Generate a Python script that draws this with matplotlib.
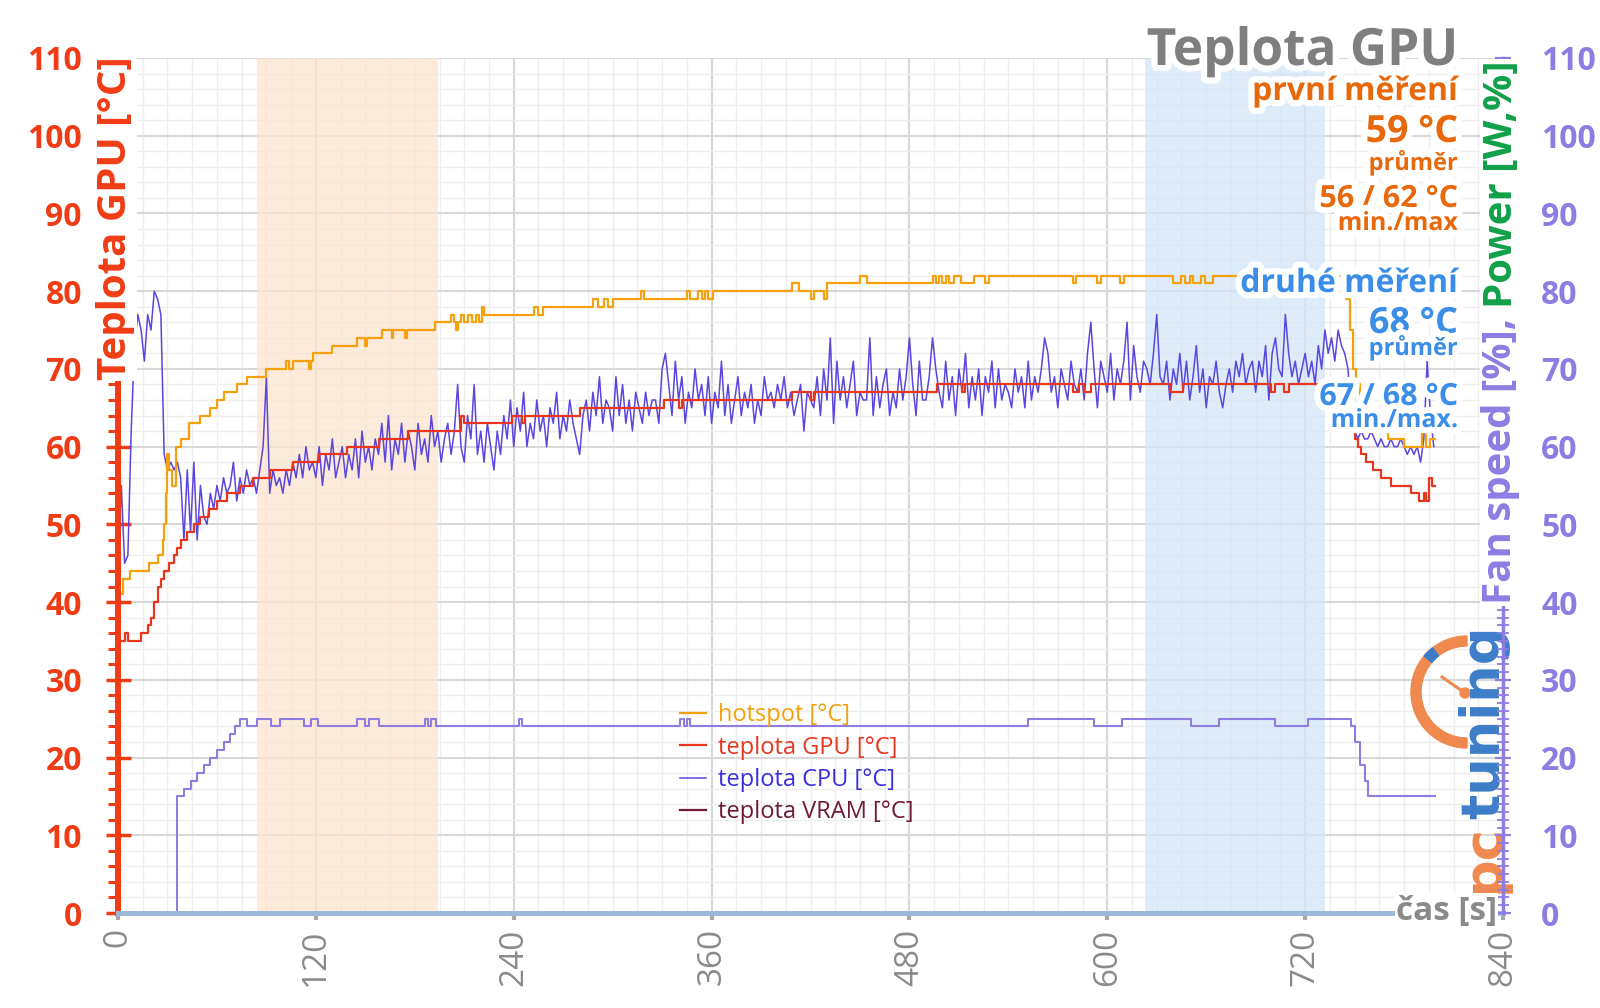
import numpy as np
import matplotlib.pyplot as plt
import matplotlib.patheffects as pe
from matplotlib.patches import Wedge, Circle
from matplotlib.lines import Line2D
from matplotlib.transforms import IdentityTransform

plt.rcParams['font.family'] = ['Open Sans', 'DejaVu Sans']

# teplota CPU, vzorek kazde 2 s
cpu_temp = [
    45, 55, 45, 46, 62, 73, 77, 75, 71, 77, 75, 80, 79, 77, 59, 57, 58, 57, 58, 56,
    48, 57, 49, 58, 48, 55, 51, 50, 54, 52, 55, 53, 56, 54, 55, 58, 53, 56, 54, 57,
    55, 56, 54, 57, 60, 69, 54, 57, 55, 56, 54, 57, 55, 58, 56, 59, 56, 60, 57, 58,
    56, 60, 55, 59, 57, 61, 56, 58, 60, 56, 59, 57, 61, 56, 62, 58, 60, 57, 61, 59,
    63, 58, 64, 57, 61, 59, 63, 58, 62, 60, 57, 63, 59, 61, 58, 64, 60, 62, 58, 61,
    63, 59, 62, 68, 60, 58, 64, 61, 68, 59, 62, 58, 63, 60, 57, 62, 59, 64, 61, 66,
    60, 65, 62, 67, 60, 63, 61, 66, 62, 64, 60, 65, 63, 67, 61, 64, 62, 66, 63, 61,
    59, 64, 66, 62, 67, 64, 69, 63, 66, 65, 62, 69, 64, 68, 63, 66, 62, 67, 65, 63,
    67, 64, 66, 66, 63, 70, 72, 68, 64, 71, 66, 69, 63, 67, 65, 70, 66, 68, 64, 69,
    63, 67, 65, 71, 64, 68, 63, 66, 69, 64, 67, 65, 68, 63, 66, 64, 69, 66, 67, 65,
    68, 66, 69, 65, 67, 64, 66, 68, 62, 67, 66, 65, 69, 64, 70, 66, 74, 63, 71, 66,
    69, 65, 68, 71, 64, 67, 66, 66, 74, 64, 69, 65, 68, 70, 64, 67, 65, 70, 66, 69,
    74, 68, 64, 71, 66, 66, 69, 74, 70, 67, 65, 71, 66, 69, 64, 70, 67, 72, 65, 69,
    66, 70, 64, 69, 67, 71, 65, 70, 66, 68, 67, 65, 70, 67, 69, 65, 71, 66, 69, 67,
    70, 74, 72, 67, 69, 65, 70, 68, 66, 71, 68, 67, 70, 66, 72, 76, 70, 65, 71, 69,
    67, 72, 66, 70, 68, 71, 76, 66, 73, 69, 67, 71, 70, 68, 72, 77, 69, 68, 71, 66,
    70, 68, 72, 67, 71, 66, 69, 73, 67, 70, 65, 69, 68, 71, 67, 65, 68, 70, 67, 71,
    69, 72, 68, 70, 71, 67, 71, 69, 73, 66, 72, 74, 70, 69, 77, 72, 69, 71, 68, 70,
    72, 69, 71, 68, 73, 70, 75, 72, 74, 71, 75, 73, 72, 70, 63, 62, 61, 62, 61, 61,
    62, 61, 60, 61, 60, 60, 61, 60, 60, 61, 60, 59, 60, 59, 60, 58, 61, 71, 64, 60,
]
cpu_time = np.arange(len(cpu_temp)) * 2

# teplota GPU (hodnota plati od daneho casu)
gpu_time = [0, 4, 6, 14, 18, 20, 22, 24, 26, 28, 31, 34, 36, 38, 42, 46, 50, 55, 60, 66,
            74, 82, 92, 106, 122, 139, 158, 176, 208, 210, 239, 245, 247, 280, 331, 340, 342, 409, 420, 422,
            497, 512, 514, 579, 583, 586, 590, 638, 646, 699, 702, 707, 710, 746, 748, 750, 752, 754, 757, 761,
            766, 772, 784, 789, 792, 793, 795, 797, 799]
gpu_temp = [35, 36, 35, 36, 37, 38, 40, 42, 43, 44, 45, 46, 47, 48, 49, 50, 51, 52, 53, 54,
            55, 56, 57, 58, 59, 60, 61, 62, 64, 63, 64, 63, 64, 65, 66, 65, 66, 67, 66, 67,
            68, 67, 68, 67, 68, 67, 68, 67, 68, 67, 68, 67, 68, 63, 62, 61, 60, 59, 58, 57,
            56, 55, 54, 53, 54, 53, 56, 55, 55]

# hotspot
hot_time = [0, 3, 7, 19, 24, 27, 28, 29, 30, 31, 33, 35, 38, 43, 50, 56, 60, 64, 72, 78,
            90, 102, 104, 106, 116, 117, 118, 130, 145, 150, 151, 160, 166, 167, 174, 175, 192, 202, 204, 205,
            206, 208, 210, 212, 215, 217, 219, 221, 222, 252, 255, 258, 288, 291, 295, 297, 300, 317, 319, 345,
            347, 352, 354, 356, 358, 361, 409, 413, 420, 422, 428, 430, 450, 454, 494, 496, 498, 500, 502, 504,
            507, 511, 519, 526, 528, 579, 581, 594, 596, 608, 610, 640, 645, 647, 650, 652, 657, 659, 664, 745,
            747, 749, 751, 753, 755, 757, 760, 770, 780, 791, 793, 796, 799]
hot_temp = [41, 43, 44, 45, 46, 48, 50, 54, 59, 57, 55, 60, 61, 63, 64, 65, 66, 67, 68, 69,
            70, 71, 70, 71, 70, 71, 72, 73, 74, 73, 74, 75, 74, 75, 74, 75, 76, 77, 76, 75,
            76, 77, 76, 77, 76, 77, 76, 78, 77, 78, 77, 78, 79, 78, 79, 78, 79, 80, 79, 80,
            79, 80, 79, 80, 79, 80, 81, 80, 79, 80, 79, 81, 82, 81, 82, 81, 82, 81, 82, 81,
            82, 81, 82, 81, 82, 81, 82, 81, 82, 81, 82, 81, 82, 81, 82, 81, 82, 81, 82, 79,
            75, 70, 68, 66, 65, 63, 62, 61, 60, 63, 60, 61, 61]

# otacky ventilatoru [%]
fan_time = [0, 36, 40, 44, 48, 52, 56, 60, 64, 68, 71, 74, 78, 84, 93, 98, 113, 117, 121, 145,
            150, 152, 158, 186, 188, 190, 193, 243, 245, 341, 343, 345, 347, 552, 592, 609, 651, 668, 702, 722,
            748, 750, 753, 756, 758, 799]
fan_speed = [0, 15, 16, 17, 18, 19, 20, 21, 22, 23, 24, 25, 24, 25, 24, 25, 24, 25, 24, 25,
             24, 25, 24, 25, 24, 25, 24, 25, 24, 25, 24, 25, 24, 25, 24, 25, 24, 25, 24, 25,
             24, 22, 19, 17, 15, 15]

first_run = (84, 194)
second_run = (623, 732)
legend_labels = ['hotspot [°C]', 'teplota GPU [°C]', 'teplota CPU [°C]', 'teplota VRAM [°C]']

W, H = 1600, 1008
RED = '#F03C14'
PURPLE = '#8E7CE3'
ORANGE_TXT = '#E8680C'
BLUE_TXT = '#3A8EE8'
GRAY = '#8A8A8A'


def fx(x):
    return x / W


def fy(y):
    return 1 - y / H


def px(x, y):
    # pixel v obrazku -> display souradnice (dpi 100)
    return x, H - y


fig = plt.figure(figsize=(16, 10.08), dpi=100)
ax = fig.add_axes([fx(118), fy(913), (1503 - 118) / W, (913 - 58) / H])
ax.set_xlim(0, 840)
ax.set_ylim(0, 110)

ax.axvspan(*first_run, color='#FCE3CE', alpha=0.75, lw=0, zorder=1)
ax.axvspan(*second_run, color='#D3E5F8', alpha=0.75, lw=0, zorder=1)

ax.set_xticks(np.arange(0, 841, 120))
ax.set_xticks(np.arange(0, 841, 15), minor=True)
ax.set_yticks(np.arange(0, 111, 10))
ax.set_yticks(np.arange(0, 111, 2), minor=True)
ax.set_axisbelow(True)
ax.grid(which='major', color='#D8D8D8', lw=1.5)
ax.grid(which='minor', color='#EEEEEE', lw=1.0)

cpu_line, = ax.plot(cpu_time, cpu_temp, color='#5A46E0', lw=1.1, zorder=2)
fan_line, = ax.plot(fan_time, fan_speed, drawstyle='steps-post', color=PURPLE, lw=1.5, zorder=2)
gpu_line, = ax.plot(gpu_time, gpu_temp, drawstyle='steps-post', color='#E8361E', lw=1.6, zorder=2.1)
hot_line, = ax.plot(hot_time, hot_temp, drawstyle='steps-post', color='#F5A10E', lw=1.6, zorder=2.1)
vram_line, = ax.plot([], [], color='#6E1A3A', lw=1.6)

# osy
ax.spines['top'].set_visible(False)
ax.spines['right'].set_visible(False)
ax.spines['left'].set_color(RED)
ax.spines['left'].set_linewidth(4.3)
ax.spines['bottom'].set_color('#9DB8D6')
ax.spines['bottom'].set_linewidth(3.6)
ax.tick_params(axis='y', which='major', direction='inout', length=18, width=2.5,
               color=RED, labelcolor=RED, labelsize=23, pad=17)
ax.tick_params(axis='y', which='minor', direction='out', length=7, width=2.2, color=RED)
ax.tick_params(axis='x', which='major', direction='out', length=5, width=3, color='#A8A8A8',
               labelcolor=GRAY, labelsize=24, labelrotation=90, pad=6)
ax.tick_params(axis='x', which='minor', length=0)
plt.setp(ax.get_yticklabels(), fontweight='bold')

ax2 = ax.twinx()
ax2.set_ylim(0, 110)
ax2.set_yticks(np.arange(0, 111, 10))
ax2.set_yticks(np.arange(0, 111, 1), minor=True)
for s in ['left', 'top', 'bottom']:
    ax2.spines[s].set_visible(False)
ax2.spines['right'].set_color(PURPLE)
ax2.spines['right'].set_linewidth(2.5)
ax2.tick_params(axis='y', which='major', direction='inout', length=11, width=1.6,
                color=PURPLE, labelcolor=PURPLE, labelsize=23, pad=22)
ax2.tick_params(axis='y', which='minor', direction='inout', length=9, width=1.3, color=PURPLE)
plt.setp(ax2.get_yticklabels(), fontweight='bold')

# legenda
leg = ax2.legend([hot_line, gpu_line, cpu_line, vram_line], legend_labels,
                 loc='upper left', bbox_to_anchor=(fx(680), fy(703)), bbox_transform=fig.transFigure,
                 frameon=False, fontsize=17, handlelength=1.1, handletextpad=0.5,
                 labelspacing=0.36, borderpad=0, borderaxespad=0)
for txt, c in zip(leg.get_texts(), ['#F5A10E', '#E8361E', '#3A30E0', '#6E1A3A']):
    txt.set_color(c)

# logo
idt = IdentityTransform()
ax.add_artist(Wedge(px(1467, 692), 56, 90, 270, width=10, color='#F0894E',
                    transform=idt, clip_on=False, zorder=1.8))
ax.add_artist(Wedge(px(1467, 692), 56, 128, 140, width=10, color='#3D7DC8',
                    transform=idt, clip_on=False, zorder=1.85))
ax.add_artist(Line2D([1442, 1465], [H - 677, H - 693], color='#F0894E', lw=2.2,
                     transform=idt, clip_on=False, zorder=1.8))
ax.add_artist(Circle(px(1465, 693), 5, color='#F0894E', transform=idt, clip_on=False, zorder=1.8))
ax.text(*px(1499, 893), 'pc', transform=idt, rotation=90, rotation_mode='anchor',
        ha='left', va='baseline', fontsize=38, fontweight='bold', family='DejaVu Sans',
        color='#F0894E', clip_on=False, zorder=1.8)
ax.text(*px(1499, 819), 'tuning', transform=idt, rotation=90, rotation_mode='anchor',
        ha='left', va='baseline', fontsize=38, fontweight='bold', family='DejaVu Sans',
        color='#3D7DC8', clip_on=False, zorder=1.8)

glow = [pe.withStroke(linewidth=9, foreground='white')]


def note(y, s, size, color):
    fig.text(fx(1458), fy(y), s, ha='right', va='baseline', fontsize=size, fontweight='bold',
             color=color, path_effects=glow, zorder=10)


note(65, 'Teplota GPU', 37, '#7F7F7F')
note(100, 'první měření', 23, ORANGE_TXT)
note(142, '59 °C', 27, ORANGE_TXT)
note(170, 'průměr', 17, ORANGE_TXT)
note(207, '56 / 62 °C', 22, ORANGE_TXT)
note(230, 'min./max', 18, ORANGE_TXT)
note(292, 'druhé měření', 23, BLUE_TXT)
note(333, '68 °C', 26, BLUE_TXT)
note(355, 'průměr', 17, BLUE_TXT)
note(405, '67 / 68 °C', 22, BLUE_TXT)
note(427, 'min./max.', 18, BLUE_TXT)

fig.text(fx(1497), fy(911), 'čas [s]', ha='right', va='center', fontsize=24, fontweight='bold',
         color=GRAY, bbox=dict(facecolor='white', edgecolor='none', pad=1), zorder=10)

# popisky os
fig.text(fx(116), fy(56), 'Teplota GPU [°C]', rotation=90, ha='center', va='top',
         fontsize=29, fontweight='bold', color=RED,
         bbox=dict(facecolor='white', edgecolor='none', pad=1), zorder=10)
t_pow = fig.text(fx(1501), fy(60), 'Power [W,%]', rotation=90, ha='center', va='top',
                 fontsize=29, fontweight='bold', color='#12A04A',
                 bbox=dict(facecolor='white', edgecolor='none', pad=1), zorder=10)
fig.canvas.draw()
bb = t_pow.get_window_extent()
fig.text(fx(1501), bb.y0 / H, 'Fan speed [%], ', rotation=90, ha='center', va='top',
         fontsize=29, fontweight='bold', color=PURPLE,
         bbox=dict(facecolor='white', edgecolor='none', pad=1), zorder=10)

fig.savefig('out.png', dpi=100)
